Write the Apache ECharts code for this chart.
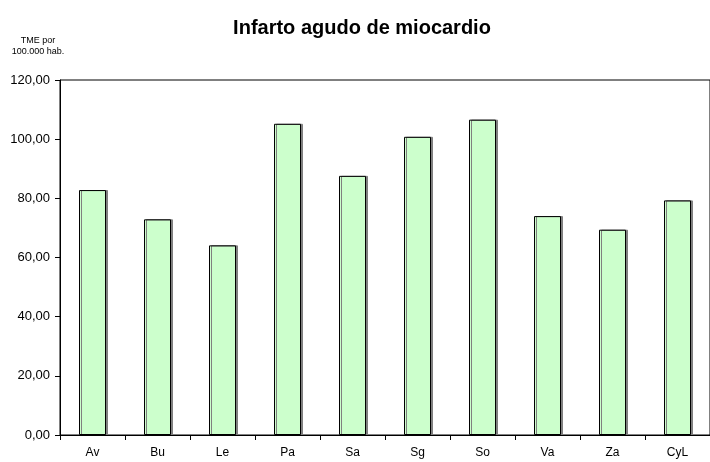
<!DOCTYPE html>
<html><head><meta charset="utf-8">
<script src="https://cdn.jsdelivr.net/npm/echarts@6/dist/echarts.min.js"></script>
<style>html,body{margin:0;padding:0;background:#fff;}#c{width:710px;height:462px;}</style>
</head><body><div id="c"></div>
<script>
const categories = ['Av','Bu','Le','Pa','Sa','Sg','So','Va','Za','CyL'];
const values = [82.8, 72.9, 64.1, 105.2, 87.6, 100.8, 106.6, 74.0, 69.4, 79.3];
const yTicks = [0, 20, 40, 60, 80, 100, 120];
const titleText = 'Infarto agudo de miocardio';
const unitText = 'TME por\n100.000 hab.';

const chart = echarts.init(document.getElementById('c'), null, {renderer: 'canvas'});
chart.setOption({
  backgroundColor: '#fff',
  animation: false,
  textStyle: {fontFamily: 'Liberation Sans, Arial, sans-serif'},
  title: [{
    text: titleText, left: 357, top: 13, textAlign: 'center',
    textStyle: {fontFamily: 'Liberation Sans, Arial, sans-serif', fontSize: 20, fontWeight: 'bold', color: '#000'}
  }, {
    text: unitText, left: 33, top: 30, textAlign: 'center',
    textStyle: {fontFamily: 'Liberation Sans, Arial, sans-serif', fontSize: 9, fontWeight: 'normal', color: '#000', lineHeight: 11, align: 'center'}
  }],
  grid: {left: 60, top: 80, width: 659, height: 355, show: true, borderColor: '#000', borderWidth: 1, backgroundColor: 'transparent', containLabel: false},
  xAxis: {
    type: 'category', data: categories, boundaryGap: true,
    axisLine: {lineStyle: {color: '#000', width: 1}},
    axisTick: {show: true, length: 5, inside: false, lineStyle: {color: '#000'}},
    axisLabel: {color: '#000', fontSize: 12, margin: 12}
  },
  yAxis: {
    type: 'value', min: yTicks[0], max: yTicks[yTicks.length-1], interval: 20,
    axisLine: {show: true, lineStyle: {color: '#000', width: 1}},
    axisTick: {show: true, length: 5, lineStyle: {color: '#000'}},
    splitLine: {show: false},
    axisLabel: {color: '#000', fontSize: 13, margin: 10, formatter: v => v.toFixed(2).replace('.', ',')}
  },
  series: [{
    type: 'bar', data: values, barWidth: 27,
    itemStyle: {color: '#CCFFCC', borderColor: '#000', borderWidth: 1, shadowColor: '#808080', shadowOffsetX: 2, shadowOffsetY: 0, shadowBlur: 0}
  }]
});
</script></body></html>
